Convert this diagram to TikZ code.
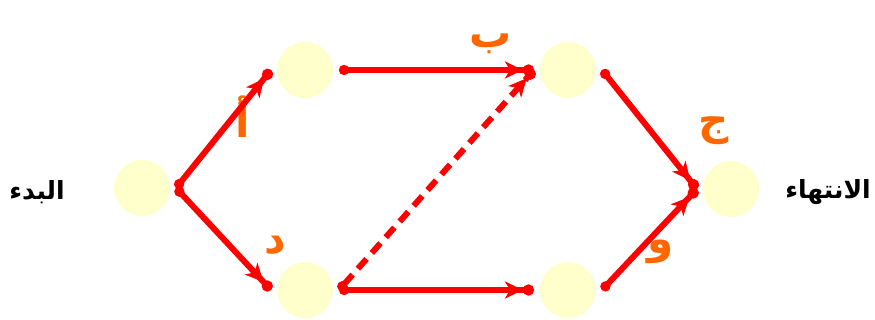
\documentclass[tikz,border=0pt]{standalone}
\usepackage{fontspec}
\usetikzlibrary{arrows.meta}
\TeXXeTstate=1
\newfontfamily\arabicfont[Script=Arabic]{DejaVu Sans}
\definecolor{evfill}{HTML}{FFFFCC}
\definecolor{actred}{HTML}{FF0000}
\definecolor{lblorange}{HTML}{FF6600}
\begin{document}
\begin{tikzpicture}[x=1pt,y=-1pt,
  event/.style={circle,fill=evfill,minimum size=56pt,inner sep=0pt,outer sep=6pt},
  act/.style={draw=actred,line width=6pt,
    {Circle[length=10pt]}-{Stealth[length=18pt,width=17pt,inset=5pt]Circle[length=11pt]}},
  actdash/.style={act,dash pattern=on 13pt off 8pt},
  endlbl/.style={font=\arabicfont\bfseries\fontsize{25}{27}\selectfont,text=black},
  actlbl/.style={font=\arabicfont\bfseries\fontsize{42}{44}\selectfont,text=lblorange}
]
\useasboundingbox (0,0) rectangle (875,320);
\node[event] (s) at (142,188) {};
\node[event] (a) at (305,70) {};
\node[event] (d) at (305,290) {};
\node[event] (b) at (568,70) {};
\node[event] (w) at (568,290) {};
\node[event] (e) at (731,189) {};
\node[endlbl] (ls) at (37,192) {\beginR البدء\endR};
\node[endlbl] (le) at (828,192) {\beginR الانتهاء\endR};
\node[actlbl] (la) at (243,117) {\beginR أ\endR};
\node[actlbl] (lb) at (491,44) {\beginR ب\endR};
\node[actlbl] (lj) at (714,131) {\beginR ج\endR};
\node[actlbl] (ld) at (275,245) {\beginR د\endR};
\node[actlbl] (lw) at (661,252) {\beginR و\endR};
\draw[act] (s.east) -- (a.west);
\draw[act] (s.east) -- (d.west);
\draw[act] (a.east) -- (b.west);
\draw[act] (d.east) -- (w.west);
\draw[actdash] (d.east) -- (b.west);
\draw[act] (b.east) -- (e.west);
\draw[act] (w.east) -- (e.west);
\end{tikzpicture}
\end{document}
